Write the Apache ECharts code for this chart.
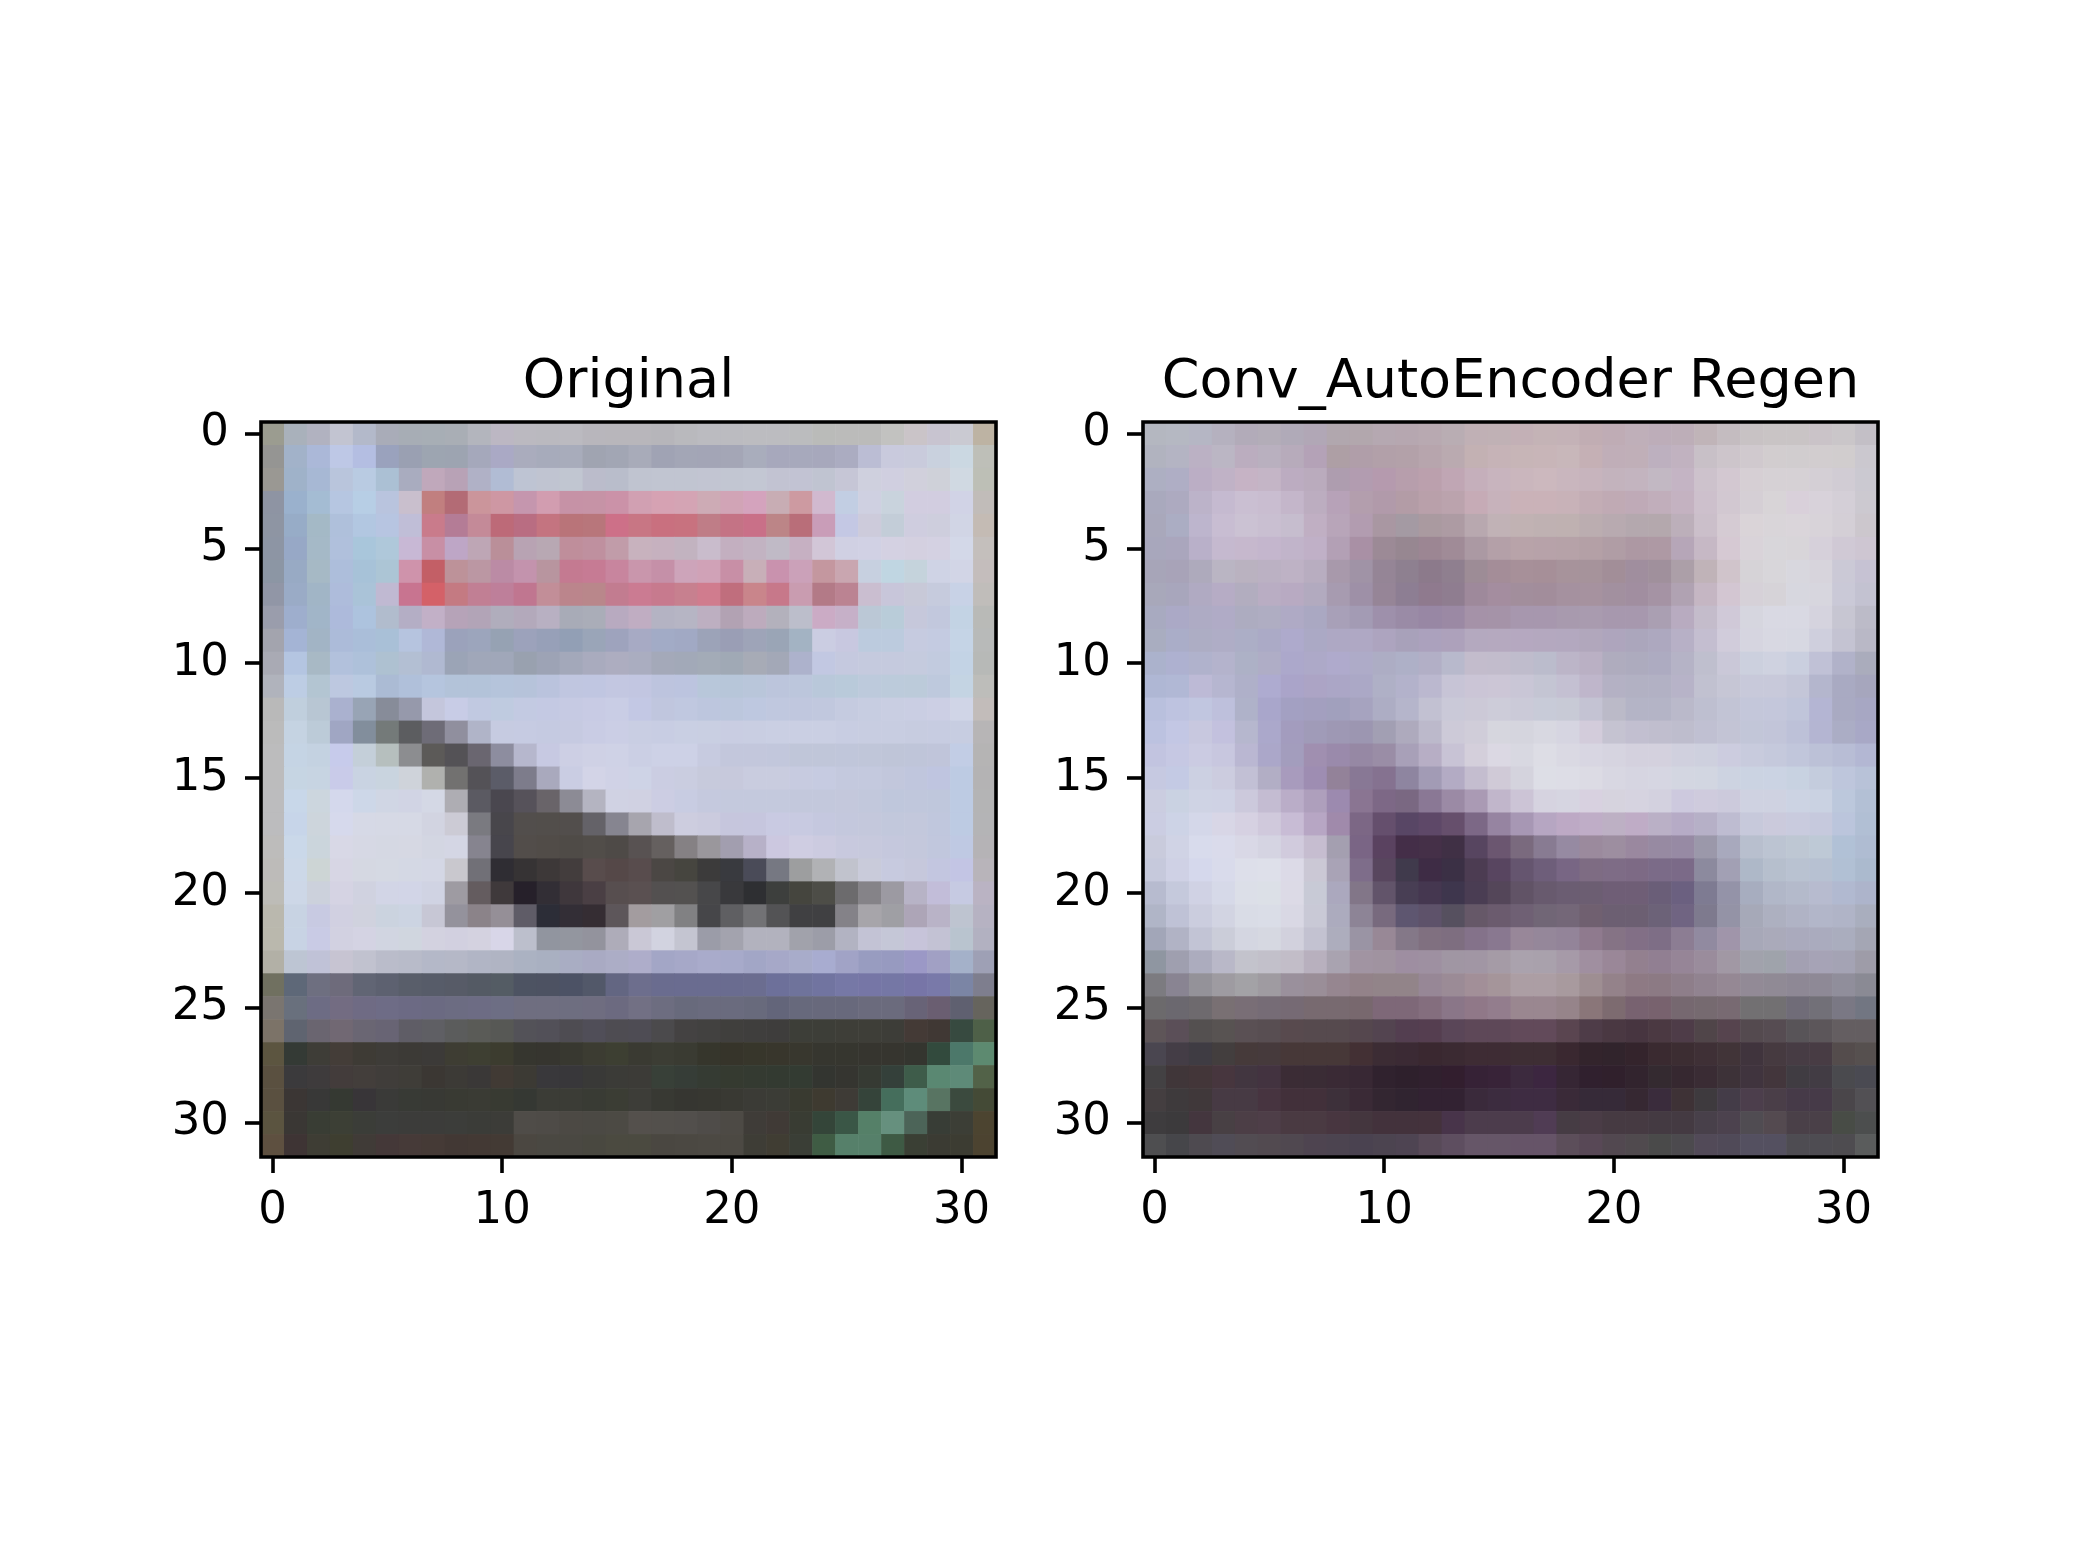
<!DOCTYPE html>
<html>
<head>
<meta charset="utf-8">
<script src="https://cdn.jsdelivr.net/npm/echarts@6/dist/echarts.min.js"></script>
<style>
html,body{margin:0;padding:0;background:#fff;}
#chart{width:2086px;height:1564px;}
</style>
</head>
<body>
<div id="chart"></div>
<script>
// ---- data (RGB hex per pixel, row by row, 32x32) ----
const titles = ["Original", "Conv_AutoEncoder Regen"];
const xTickValues = [0, 10, 20, 30];
const yTickValues = [0, 5, 10, 15, 20, 25, 30];

const originalRows = [
"9b9c90 a9b1bb b1b2c0 c2c4d1 b3b9ca a9acb8 a7adb5 a7aeb5 a9aeb5 b3b5bd bcb7c3 bbb9c0 bab9bf bbbac0 b8b6bc b8b6bb b8b6bb b6b5ba b9b9bd bbbbc0 bbbbc0 bcbcc0 bcbcc0 bbbcbe babbb9 bbbbba bbbbba c2c2c0 cac4c8 c8c4d0 cacad2 bdb3a3",
"959593 a2b2c9 abb8d8 bec8e6 b4bee2 9aa2bd 9aa0b2 9da5b1 9da4b1 a5a8bb aaa9c5 aaacbd a7abbb a8acbb a0a4b1 a2a6b4 a8abb9 a0a3b4 a3a6b6 a3a5b6 a4a6b6 a9adbc a7a8bc a7a9bc a7a8bc abacc1 bbbdd4 c9cadd c9cbdc c9d1de cbd8e2 bebfb8",
"9a9893 9fb2c9 a7b8d4 b9c5dc b9cbe2 abc0d4 a9acbf c0a8bb b8a2b6 b0b1c6 b1bcd4 bec4d3 c0c4d1 c1c6d1 bbbccb b9bdcb c0c4d0 c1c5d1 c1c5d1 c2c5d2 c2c6d2 c3c7d3 c2c3d2 c2c3d3 c0c4d1 c6c6d6 cfd0de d0cfe0 d1d0dc cfd1d9 d0d9e2 bdbfb6",
"8e94a3 9ab1cd a4bcd3 b6c6e1 b7cee5 b9c4de c9bfcd c17f7f b36b75 cb959b ce97a3 c596ae d29db0 c692a6 c693a6 cb92a8 d1a0b2 d6a2b3 d4a4b4 cdabb5 d1a4b6 d4a3bd c8adb4 cd9aa1 d1b9cf c2cee3 cfd0e1 c9d3dd d2cde0 d2cde0 d1d3e6 c1bcb9",
"8e95a3 97acc7 a4b9c6 afc0db b2c7e1 b7c5e1 c0bed7 c97b8b b47c96 c48a98 bd6a78 b96d82 c47480 b97479 b8767b cd7088 c87684 c9707f c8727f bf7d87 c47385 c97088 bc8587 b96e79 c99db8 c4c8e4 cdcbdb c3cdd8 cfcddf cecedd d1d5e5 c4bbb4",
"8d95a4 97a8c6 a5b9c7 b0c0dc a9c6db afc8da c8b8d5 c88fa5 bea6c6 bea6b5 ba8f99 b8a3b3 b8a8b3 bf8e9b bf909f c19ca9 c8b2be c6b1bf c2b3c0 c9bccc c3afc0 c2b3c2 c0bac6 c6b0c2 d2c6d7 d0d0e3 d1d1e4 d4d1e2 d4d0e0 d4d1e2 d3d8e8 c4bfbc",
"8c96a4 98aac4 a6b9c5 adbedb a7c2d8 acc5d5 cf93ab c35f66 bd9299 bb97a3 bb8ba5 c393ad b8959f c47a91 c67b94 c8859e c996ac c590a8 cda4ba d0a2b7 c88fa6 c8afb8 c992ae cba1b9 c4979f c9a6b0 c7d0e0 c0d6e2 c5d3dc cfd3e5 d2d5e6 c4bdbc",
"9196a6 9aabc6 a1b5c6 aebcdb aac3d8 c0b9d2 c87490 d46168 c47a82 c17f94 be7f9a c07690 c28e98 bb858c b9878b c27c90 cb7b92 c77a8e c7808f d07c8e c06e7d c9858b c7788a c99cb0 b37a87 bb8392 cabed0 c8c6da c8c9d8 c6cbdd c8d2e6 c0bdba",
"9a9dac 9eaecd a1b5c8 adbadb adc3de b1bccd b4aec5 c2b0c7 b6a3b8 b2a4b7 b0adbc b3a9bb b8b0c2 a8abb7 aaadb8 b8aac0 c0adc2 b4b3c3 b6b5c4 bdafc1 b2a2b3 bdabbd b3b1bc bcbecb cbabc5 c6b0c8 bbc8d6 b9ccd9 c6c8db c2c8dd c3d3e4 b9bab7",
"a3a4ae a4b4d5 a2b4c5 acbbd9 aabed9 a9c0d7 b6c4df b0b8d7 9ba2bb 9ca5bc 96a2b3 9ca2bb 97a0b8 929fb5 9aa5b8 9ea3bd a7aac4 a2abc6 a1a9c4 9ca3b8 9a9eb5 9ea4b8 9aa5b6 a3b3c3 cbcde2 c8c8e0 bccbde bccbde c6cbe0 c4cbe1 c5d4e6 b8bab9",
"a9aab4 b4c5e1 a8b9c5 b2c1dc aec1da aec1d1 b3bfd3 b0b9d1 9ba4b6 a0a7b9 a0a7b9 99a1af 9da3b5 a3a8ba a9abbe adadc0 aaadc0 a4a9b9 a2a9b8 a3abb7 a0a9b5 a7abb6 a3a8b7 adb2cc c2c8e2 c5c9df c5cade c5cade c5cbde c2cbdf c3d3e5 b7b9b7",
"b0b3bc bdcde4 b3c5d2 bdc8e0 b9cae1 abbbd4 b0c0da b5c5de b3c3d9 b3c3d9 b5c4db b6c3da bac3dd c0c6e0 c0c6e1 c3c7e1 c2c6e1 bdc4de bcc4df b8c7da b7c6d9 b9c6da bcc5dc bcc6dc b9c8da b9cada bdcadc bccbdb bccbda bec9dd c4d4e3 bdbdba",
"b9b9b9 c0cfdd b8c6d3 aab1cf 98a4b5 878c99 9699ab c4c6dc c8cce6 c1c9e1 bfcbe0 c3cae2 c4c9e3 c6cae3 c8cbe4 c9cde5 c3c8e4 c0c6de c0c8e0 bdc6de bcc7dd bec8e0 c0c8df c0c7de c1c8de c5cbe0 c7cde1 c9cee2 cacee3 cccfe4 d0d5e7 c2bcba",
"bbbbbb c5d3e2 bccbd8 a0a6c3 828e9c 747a79 5c5d60 6e6c77 908f9e b0b4c8 c6cbe1 c6cbe2 c5cae1 c6cae1 c9cce4 cbcee5 c9cee3 c8cde3 c9cfe3 c9cfe2 c9cde2 c9cee2 cacfe3 cacfe3 cacfe3 c8cde2 c8cde1 c8cde1 c7cce0 c7cce1 c7cde1 b7b5b6",
"bcbcbd c5d4e4 c4d2e1 c7cbeb c4cfd9 b6bfbe 8c8d90 5c5a58 545256 6a6670 8d8d9f b6b7cd c7c9e2 cdcfe4 cfd1e5 cfd2e6 cbcfe4 cdd1e6 cdd1e6 c7cbe0 c3c7dc c3c7dc c2c7dc c0c6d9 c0c6d9 c0c6da c0c6d9 bfc5d8 bfc5d9 c0c5da c2cde5 b5b4b4",
"bcbcbd c6d5e3 c7d4e2 c9cbe9 c9d3e2 c9d4df cfd3da b0b1ae 727170 545257 5b5c68 7d7c8b a9a9bd cacde3 d3d4e7 d0d2e6 ced3e6 cbcde2 cacde0 c7cadc c7c9dc c9ccdf c9ccdf c7cbe0 c6cbe1 c4c9de c4c9de c2c7dc c0c6dd bfc5e0 bdcbe3 b4b3b4",
"bcbcbe c8d7e9 ccd6de d4d8ec cdd7e8 d0d6e4 d1d4e4 d4d8e5 aeadb3 5b5a62 4a474f 56525a 696469 8c8b95 b4b4c1 d0d2e3 d0d1e2 cccde3 c8cce2 c5c9de c4c9dd c4c9dd c4c9dd c3c8dc c3c8dc c4c8dc c2c8dc bfc7dc c0c7dc bfc7dc bdcbe3 b4b4b5",
"bcbcbe c7d5e9 cdd5dc d6d9ec d6d9e6 d6d9e5 d6d9e5 d2d4e1 cccbd5 7a7a80 48464b 524e4c 524e4b 524e4c 646268 868590 a7a5ae bfbdcc cdcddf cbcbde c6c6dd c6c6de c9cae2 c8cae1 c5c8df c4c8dd c4c8dc c2c8dc c3c8dc c0c7dd bdcbe3 b4b4b6",
"bdbcbb cad8e9 cbd5dc d8d8e6 d6d8e4 d5d8e3 d6d8e3 d3d6e2 d4d6e4 86848f 47454c 524d4a 514c48 4f4b47 514d49 4e4a47 585252 65605f 858184 9a979c a29eaf b7b1c8 ccc8e0 cfcde2 cccbe0 c8c9de c7c9dd c5c8dd c4c8dc c1c7dd bfc9e3 b5b3b6",
"bdbbb9 ccd8e8 cdd5d5 d7d6e4 d5d8e2 d5d9e3 d4d8e4 d4d7e5 c9c8ce 717077 2f2d33 363334 3d3838 433d3d 584c4c 554848 584c4d 4b4744 46453f 3c3b3b 393a3f 4a4b58 767882 9d9e9f b1b2b5 c1c3cd c9cbda c7cadf c6c8dc c3c6e0 c3c5e4 b8b4ba",
"bdbcb7 cdd7e7 ccd1dc d5d3e3 d0d2e0 d2d5e6 d2d5e7 d0d3e3 9e9ba2 645c5f 3f393b 26202a 322e35 3f373c 4a3f44 574e4f 5a5051 535050 535150 474749 39393c 2e2f32 3d3f3d 45453e 4d4d47 6c6b6d 858388 9c9aa2 b7b3c6 c2bdd9 c6cae2 bab3c3",
"bab8ae c8d3e3 c8cae2 d1d0e1 d0d2de cbd3df ccd4e2 c7c7d5 94929c 8b8389 958f97 5f5c67 2c2d37 332e36 352d33 5d565a a39c9f a09fa2 818183 464649 5f5f62 727275 535355 404042 404042 848288 a7a5aa 9f9fa4 ada5b7 b9b3c7 bec4d0 b6b2c2",
"bab8ad c8d3e4 c9cbe5 d2d1e1 d4d3e3 d1d5e1 d0d6df d3d2e0 d2d0e0 d4d2e0 d8d6e8 bcbfcc 91959f 93969f 93939d aeacb9 cac8d6 d2d3e0 c4c5d1 9b9ca8 a3a3ae b2b2be b2b2be a1a2ab 9c9da8 b2b3c2 c3c3d5 c5c7d7 c7c4da c3c2d4 b9c4cf b2b1c1",
"b2b0a6 bdc5d3 c0c2d7 c7c4d2 c1c2cf babcca b8bbc9 b4b8c8 b5b8c7 b1b5c5 b0b4c3 abb2c2 a9b0c1 a9adc3 a9aac3 acadc6 aeadca a3a6c6 a6a8c8 a9abcb a7aaca a2a6c6 a6a8c8 a8acca a8acd0 a1a3c6 989cc0 979ac0 9b98c6 a1a0c4 a4b1c9 9ea0b5",
"707060 5e6878 6e6f80 6e6b7b 616574 5d6170 595e6a 575c69 575b67 545a64 545c64 4d5362 4d5262 4c5265 525869 636682 6d6e8d 6a6c8f 6a6c90 6a6c90 6a6c90 6b6d90 6d709a 6f739b 7174a0 7678a6 7676a6 7577a5 7775a7 7979a9 7b85a5 7e7e8e",
"7a7570 69707d 6d6c84 736c82 6f6b84 6e6c86 6c6a84 6b6a82 6c6c82 6d6c84 6d6e84 6f6e80 6f6e80 6e6e80 6f6d80 6c6a80 727084 6d6d80 686a7c 6a6b7e 6a6b7e 686a7c 63657a 67697c 68697c 68697c 6b6b7d 6b6b7d 686377 6a5e71 5f6070 66645d",
"7c7368 5f6470 6a6570 716873 6a6673 686474 5f5d66 5f5f64 5b5c5c 5a5b57 575855 535258 525058 4e4c52 504e58 4e4c52 4e4c54 4b4a4c 444242 424140 403f3d 3f3e3d 3e3d3c 3d3e38 3d3e38 3e3e38 3e3e38 3d3d38 443a36 403834 374a40 4e6048",
"5c5540 343a35 3e3d37 443d38 3e3b35 3e3c38 3c3a36 3c3a38 3e3d33 3e3f32 3c3c2f 36362f 36352f 383830 3c3c32 3d3f32 3a3a32 3c3d34 3a3b32 36362c 36342a 37362b 38362c 38372e 36362f 36362f 36352f 36352f 34352f 324a3d 4c786a 5d8a70",
"5a5040 3b3a3c 3e3b3c 433c3b 433e3b 403d3a 3f3d38 3b3733 3c3a36 3a3837 413a34 3c3a34 39383b 38373a 393937 3b3b37 3c3b37 384038 363d37 353b33 353a30 343a31 333a31 333b32 333530 353530 363a33 34403a 3e5c4a 5a8872 5e8a78 526248",
"5a5040 3b3634 383837 353932 383538 3a3a38 383a35 383934 393a33 3a3b34 383a32 353833 3b3c36 3b3c36 393b34 3b3d34 3d3d38 383933 363631 373731 393933 3b3b36 3b3c36 393a30 3e3a30 3e3b36 35443a 456e5c 5e8c7a 587462 3b4a3e 444a36",
"5b5440 3a3734 393d34 3c3f35 3b3d38 3c3d3b 3c3c3a 3c3c3a 3c3d3a 3b3c38 3c3c38 4f4c48 4e4b47 4c4944 4b4944 4c4a44 54504c 53504c 524f4c 4f4c49 4d4a45 3f3c38 403a36 393c33 344539 3a5646 558068 66907e 4c6458 383d36 3c3e36 4c4430",
"5e5040 3e3434 3e3d34 3e3e30 403b37 443838 463a38 453a36 423834 433934 433a34 4b4741 4a4842 4a4842 494840 4b4a40 4b4a40 4a4741 4b4842 4c4943 4c4943 3e3d36 403d33 3a3e36 3f5c44 56806a 56806a 3e5a44 3a3f34 3b3b33 3c3c32 4c4330"
];

const regenRows = [
"b4b7c0 b5b8c2 b5b6c4 b5b1bf b2abb9 b3adb8 b0aab8 b1a7b6 b1a7ae b2a7ad b5a8b1 b6a7b0 b8a9b1 b9adb3 c0b0b5 c0b1b5 c3b0b6 c4b3b6 c4b2b7 c1adb3 bfacb5 bfafb9 bdadb9 bdaeb8 c0b4b8 c4bcc0 c8c2c4 c9c4c5 c9c4c5 cac3c8 cac6c9 c3bfc6",
"b1b3bf b4b4c3 bbb1c4 bbb6c4 bbadbf b9b0bf b7abbb b4a2b7 ae9fa5 b09ea9 b2a0a9 b3a1a9 b7a5ad baaab0 c3b1b3 c6b3b7 c7b5b7 c8b5b8 c8b7ba c5b0b5 c0aeb8 c0afb8 bdb0bf c1b2c0 c8c0c7 cdc5cb d0c9ce d2cdcf d1cdcf d2cdcf d1cdce cbc8cf",
"adafc2 afaec5 bbaec5 c0b2c6 c6b3c5 c4b5c6 bcacc1 baabbd ae9daf b29cb0 b59aae b79eac bba0ad c0a6b4 c5afbb c8b4be cab6bd ccb8be c9b6be c7b4bd c3b3bd c3b4bf c2b8c3 c4b4c4 cdc2cc d3c8d1 d6cfd4 d6d1d5 d6d1d5 d4cfd5 d1ccd4 cbc9d1",
"a9a9bd adaac0 bcb3c9 c5bad0 cabfd2 c9bdd0 c4b6ca bcadc0 b7a2b8 b39ead b19aaa b39ca6 b9a0aa bba3ad c6abb6 c7b2bb cab2b8 cab2b8 c8b2b8 c3adb5 c0aab4 bfaab7 c1aebb c4b2c1 cdc0cc d2c8d1 d5cfd5 d8d4d7 d9d0da d8d2da d4cfd7 ccc9d0",
"a9a8bb abadc3 bdb5cd c8bdd2 cbc2d3 c9bfd1 c6bdce c0afc3 b8a5b9 b29cb0 a997a2 a49aa3 aa9aa0 ad9ba3 b8a8af c1b2b6 c1b2b3 bfb1b2 bfb1b1 bbadb0 b8aab0 b4a8ae b4a8ad bcafba cbbfca d5cbd3 dad4d8 d9d5d9 dad5da d8d3d9 d4cfd6 ccc7cd",
"a8a7bc aaa6bd b9b0c9 c5b9cf c6b8cd c4b6cd c1b4ca c0b0c7 b3a0b5 a990a5 9c8a96 978791 9c8693 a08b97 ab99a3 b4a0a8 b8a3a9 b7a2a9 b6a2a8 b4a0a6 b09da5 ad98a3 ae99a4 b6a6b8 c6b8c5 d6c9d3 d9d3d9 d8d6da d8d5d9 d6d0da d0c9d5 cec6d2",
"a7a5b8 a8a3b8 aeaabc bab5c3 bab2c0 bbb1c3 beb2c5 b8adc0 a899ab a093a6 958596 8e8090 8c7a8b 8f7f8f 9d8c96 a48d98 a79099 a68f98 a7939b a6939b a28e98 a08e9e a0909c ac9fa8 c0b3b8 d0c4cb d6d3d7 d8d6da d8d7de d7d4dc cbc9d6 c6c2d3",
"a8a8ba a8a6bc b0aac2 b6acc5 b2adbf b9adc3 b8aac2 b2aabf a79bb0 9e90a7 968597 8d7e93 8f7a8e 8f7d90 9e899b a48d9f a28e9c a28d9b a5919f a6929f a2909f a18ea0 a593a4 b0a2b2 c5b6c3 d3c6d2 d6d1d8 d6d3d8 d7d7df d7d6de cac9d7 c3c2d1",
"a8aac0 aba9c6 aeabc4 b0abc6 adacc0 afadc2 afaac5 aaa8c2 a8a0b8 a39bb4 9e90ab 9a8ba6 9887a4 9b89a4 a592a8 a593a8 a797ae a797ae a89aae a99baf a798ae a798ae aa9fb2 b8abc0 c4bccb d0c9d8 d6d6df d9d9e3 d9d9e3 d5d3de c7c6d2 bcbbc8",
"a9adc0 aaadc8 adadc4 afadc6 acaec6 abaac6 aeaacc aba9c5 aea8c4 afa8c4 ada4bf a8a1ba aba1bd ada1bb b4a9bf b5a9bf b5a8c0 b4a8bf b3a8bf b1a7bc aea5bd aba6bc ada8bf b7b0c6 c4bed0 d1ccdb d6d5e0 d8d8e2 d7d8e2 cfcfdd c4c3d2 b9b8c6",
"abb2cc aeb1d0 b0b2cc b4b3cc adb1c6 afadc6 aca8cb ada9c8 afaacc aeabc8 adadc4 aeb0c7 b2afc6 b8b9cc c3bccc c2bccc bfbccc bbbccc bcb5c8 bab0c4 afacbe adabbe adabc1 b5b3c6 bfbfce cac8d8 ccd0de cfd2e0 cacfdf c0c1d6 b1b2c9 aaacbc",
"afb7d4 b1b8d5 bdbad6 b6b6d0 afb0c9 aeabd0 aaa4c9 aca4c5 aba6c6 aba8c6 afb0c6 b3b2cb bbb8cf c7c4d6 cbc5d6 ccc6d6 c9c6d6 c4c5d3 c4c0d2 bfb6cb b4b1c4 b2b1c3 b2b1c4 b7b3c8 c1c1d0 c6c6d5 c8c9da c8c9da c4c6d8 b4b6cd a9aac2 a6a6bd",
"b9c0dd bec3e0 c1c6e0 bec0dc afb2c9 a9a6cb a3a0c2 a39fbf a1a0bd a6a3bf adadc4 b5b5cb c2c1d2 cac9d8 ccc9d7 cdccd9 cbcad8 c8cbd8 c8cad6 c4c3d3 bbbac8 b4b4c6 b4b4c6 bab9ca bebfd0 c2c4d5 c4c7da c4c7db c0c5da b4b5d3 a9aac2 a7a7c3",
"bcc2e0 c3c7e4 c8c8df c3c1de b6b7ce aba8cb a39cbe a09bb8 9e98b4 9c96b1 a29fb3 aeaabd bcb9cb cdcad8 d0cdd9 d6d6de d5d5de d8d8e1 d6d5e1 d3ccdb c5c3d1 c2bfd0 c0bece bebdcd c0c0d2 c3c4d5 c2c6d8 c2c5d9 bdc1d8 b4b5d2 abadc5 a8a8c6",
"c2c4e0 c6c8e3 cbcbe2 c8c7df bab7d2 aba7c9 a39dbd a08fb0 9a8aab 9688a4 9a8da6 a8a0b8 b7aec5 c8c3d5 d4cfdb dbd8e3 d8d8e1 dddde5 dad9e3 d8d6e2 d6d4e0 d4d1de d4d1de d0d0de ced0de ccccdf c8cbdd c5c9dc c1c6db bcc1d7 b8bdd5 b3b7d3",
"c6c9e1 c4cae4 ccd0e2 ccccdf c2c0d5 b2aec5 a89bbd 9e8db2 938299 887895 857290 8e85a0 a29bb5 b3abc4 c4bdcf d0cad7 d4d3dd dddee6 dddde6 dcdbe4 d8d7e2 d6d5e1 d6d6e2 d3d6e1 d2d6e1 cdd3e1 cbd3e2 cbd3e3 c8d2e1 c4ccdd bec6dc b8c2d8",
"cbcde0 cad2e2 cfd3e4 cfd2e4 ccc9dc c4bcd2 baadc8 ae9fbc 9c8aaf 8a7592 7d6886 7a6882 8a7895 9b8aa5 aa9ab4 c1b6cb ccc4d6 d6d3e0 d6d5e1 d8d1e0 d6d3de d6d3e0 d3d1df cdc9de cfcbdd cccadc cfd2e1 cfd2e1 ccd3e3 cad2e2 bcc8dc b3c0d5",
"cbcde2 cdd3e6 d4d7e9 d8d6e6 d6d1e2 d0c9dc c8bcd5 b7a6c4 a08aab 7c6785 654f6d 584665 5e4868 664f6c 7c6886 9684a1 a797b4 b6a6c2 bda9c5 bfadc7 bdb0c4 bfacc6 bab0c6 b6abc6 b6b0c7 bebcd1 c7c9db cbcadc c9cbde c6c9dd bbc5dc b1bfd4",
"c9cbdc d0d3e5 d8dbec dadbeb d9d8e6 d5d4e2 d1cbdd c6bdd0 a49fb0 7a6585 5a4260 442e48 453048 403045 574560 6b5670 7a6a7e 887b92 968aa2 9b8a9d 9d8ea0 9a889f 978aa2 978aa4 9b98aa a8a9bd b8bfce bcc4d2 bec7d3 bec9d6 b1c1d6 afbcd2",
"c6c9dc cfd1e5 d5d8ec d9dbeb dddfea dee0ea dcdae7 cbc8d5 a9a3b6 7e6d8a 58465e 403a4c 3e2c45 3b3045 4c3c52 584560 65556f 6e5e7a 786684 7e6c83 7e6c86 7d6a85 7b6b88 7b6a88 8c8a9e a2a0b4 aeb8c8 b6bfcd b9c2d1 b7c1d2 b1c0d4 abbace",
"b7bbcf c5c9dc d0d2e4 d6d9e8 dcdfe8 dce0e7 dcdae6 c8cad6 aba8be 827688 62546a 483e54 453750 3e364d 4a3d53 544659 615366 685a6e 6b5d72 6c5e72 6f5e76 6f5e76 6a5e78 6b6080 7e7b92 9493a8 a7adbf b1b7c8 b4bacb b7bbcf b1b9d0 adb4cb",
"b0b5c7 bfc2d6 cbcdde d2d4e2 d9dce6 dadde7 d9d8e4 c9c9d6 acabbe 8d8496 786a7e 5e5670 5e526a 56505f 665868 6b5b6e 6f6074 716676 746778 706070 6c5f72 6c5f72 6c6278 706482 7e7a8e 9493a6 a6a9b8 adb0c0 b0b3c5 b2b6c9 b0b4c7 a9aebe",
"a2a6b8 b1b3c5 c2c4d5 cbcdd9 d4d6e1 d6d8e1 d2d1dd c3c2d1 adadbd 9a94a4 988896 847888 807080 7e6e80 84728a 897890 988799 95879a 938499 8f7a8e 857385 826f86 7e6e86 8c7d93 918aa0 a095aa a7a8b8 aaaaba aaaabd aaabbe aaadbe a4a6b4",
"8f96a1 9f9faf acacbe b9b8c8 c3c3cc c2c0ca c2bdc8 b8b0be a9a3b0 a194a2 a093a0 9e8ea1 9e90a1 a096a3 a196a4 a59ba6 aaa2ad a9a1ac a69aa8 a08fa0 9a8798 93808f 917f92 968597 9a8c9c a198a4 a1a2ac 9fa3ab a3a0b2 a6a3b6 a4a3b4 9e9ca8",
"7c7b80 898492 949299 9e9ba1 a3a2a6 9f9ba1 9a909c 9a8e98 968690 938289 928489 928489 978796 9b8b96 a28f98 a5959a ac9ea4 ac9ea4 a89a9e 9e8e92 94828a 8e7a84 8c7a84 8e7e8a 918390 958894 928a96 908a95 8e8895 8e8996 908e9b 8a8a94",
"6c6a6c 6b686f 6e6a6e 797073 796e76 766c76 766a74 786a70 786a70 78686e 7e6878 7e6878 846e7e 8a7688 907888 937d8d 9a8790 9a8790 96848a 8a7679 7d6b70 786270 78626e 766870 766a70 786a72 727072 727072 706c78 727078 7a7884 727682",
"5e5558 5b4f58 545050 585352 5a5054 584e52 584a4e 564a4e 564a4e 55474e 534450 533e50 553e50 5a4658 5e4858 5e4858 624a5a 624a5a 5a4550 4e3c48 4a3842 473540 4b3942 4e3c48 504549 56444e 544a4f 564c52 585458 5c565a 645e61 645e61",
"4a4650 443d46 3f3c43 433e3e 463a3a 463a3c 473838 473838 473838 433034 3c2c34 3b2a34 3a2830 3b2a32 3e2c34 3e2c34 3e2e34 3e2e34 3a2830 33242c 31242c 34242c 3a2a30 3c2d32 3f3036 413438 40343d 463a40 473c44 483c44 544c4c 56504f",
"434143 403639 433639 47363e 423640 433340 3b2c35 3a2c35 3a2a35 382834 30222e 2e202c 30202e 321e2e 362236 382338 3c2a3e 3c2640 362634 30202e 30202c 32242e 342a30 362830 3a2c34 3d3238 40343e 43363c 403c42 423c44 4a4a4e 4a4a52",
"443e40 3e3a3c 40383a 473a44 473a44 473440 42303a 42303a 3d303a 3a2a36 332631 302430 322232 322232 3a2a3b 3c2c3f 3e2c42 3e2c42 3a2a38 362a38 362a38 362832 3a2c3c 3e3236 3e3a3e 443c48 4c3e4c 4a3e48 463a48 463a48 4a464a 525054",
"3e3c3e 3c3a3c 44363e 484044 4c3e46 4e3e48 4a3a42 4a3a42 483640 44363e 43323c 43323c 44323c 48344a 4c3c4c 4c3c4c 4c3c4c 503c54 463c44 4a3c46 463a42 463a42 443a42 443a42 48404a 4c424e 504c52 544a50 4a4048 4a4048 484c46 4c4e4e",
"4e4e50 46464a 4e4a50 504c56 524c52 524a50 504850 4e4450 4c4450 4a4250 4c4450 4e4452 584a58 5e4e60 665668 665668 665468 665468 5c4e5a 584856 524850 504a4e 4a4a4a 4c4a4e 524a58 504a58 545060 545060 4e4c52 4e4c52 4e4c50 5a5c5c"
];

// ---- build series data from the rows ----
function buildImage(rows) {
  const data = [], colors = [];
  rows.forEach(function (row, r) {
    row.trim().split(/\s+/).forEach(function (hex, c) {
      data.push([c, r]);
      colors.push('#' + hex);
    });
  });
  return { data: data, colors: colors };
}
const images = [buildImage(originalRows), buildImage(regenRows)];

const FONT = 'DejaVu Sans';
const grids = [
  { left: 261, top: 422, width: 735, height: 735 },
  { left: 1143, top: 422, width: 735, height: 735 }
];

function makeRender(colors) {
  return function (params, api) {
    const x = api.value(0), y = api.value(1);
    const p0 = api.coord([x - 0.5, y - 0.5]);
    const p1 = api.coord([x + 0.5, y + 0.5]);
    return {
      type: 'rect',
      shape: {
        x: Math.min(p0[0], p1[0]),
        y: Math.min(p0[1], p1[1]),
        width: Math.abs(p1[0] - p0[0]) + 0.6,
        height: Math.abs(p1[1] - p0[1]) + 0.6
      },
      style: { fill: colors[params.dataIndex] }
    };
  };
}

const tickStyle = { show: true, inside: false, length: 16, lineStyle: { color: '#000', width: 3.6, cap: 'butt' } };

const xAxes = [], yAxes = [], series = [];
grids.forEach(function (g, i) {
  g.show = true;
  g.z = 10;
  g.borderColor = '#000';
  g.borderWidth = 3.6;
  g.backgroundColor = 'rgba(0,0,0,0)';
  xAxes.push({
    type: 'value', gridIndex: i, position: 'bottom', min: -0.5, max: 31.5, z: 12,
    axisLine: { show: false, onZero: false },
    splitLine: { show: false },
    axisTick: Object.assign({ customValues: xTickValues }, tickStyle),
    axisLabel: { show: true, customValues: xTickValues, margin: 32, fontSize: 45, fontFamily: FONT, color: '#000' }
  });
  xAxes.push({
    type: 'value', gridIndex: i, position: 'top', min: -0.5, max: 31.5,
    axisLine: { show: false, onZero: false }, axisTick: { show: false }, axisLabel: { show: false }, splitLine: { show: false },
    name: titles[i], nameLocation: 'middle', nameGap: 12,
    nameTextStyle: { fontSize: 54, fontFamily: FONT, color: '#000' }
  });
  yAxes.push({
    type: 'value', gridIndex: i, position: 'left', inverse: true, min: -0.5, max: 31.5, z: 12,
    axisLine: { show: false, onZero: false },
    splitLine: { show: false },
    axisTick: Object.assign({ customValues: yTickValues }, tickStyle),
    axisLabel: { show: true, customValues: yTickValues, margin: 32, padding: [16, 0, 0, 0], fontSize: 45, fontFamily: FONT, color: '#000' }
  });
  series.push({
    type: 'custom', xAxisIndex: i * 2, yAxisIndex: i, z: 2, silent: true,
    renderItem: makeRender(images[i].colors),
    data: images[i].data,
    clip: false
  });
});

const chart = echarts.init(document.getElementById('chart'), null, { renderer: 'canvas' });
chart.setOption({
  backgroundColor: '#ffffff',
  animation: false,
  grid: grids,
  xAxis: xAxes,
  yAxis: yAxes,
  series: series
});
</script>
</body>
</html>
